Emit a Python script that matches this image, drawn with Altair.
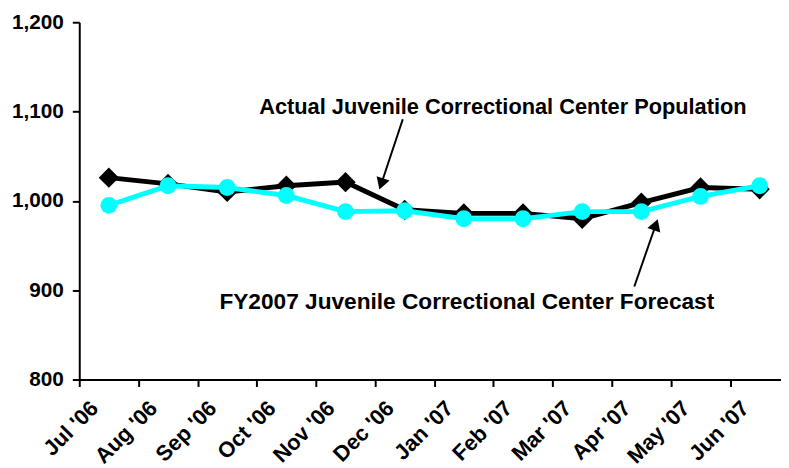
import json
import altair as alt
import pandas as pd

months = ["Jul '06", "Aug '06", "Sep '06", "Oct '06", "Nov '06", "Dec '06",
          "Jan '07", "Feb '07", "Mar '07", "Apr '07", "May '07", "Jun '07"]
actual = [1026, 1019, 1010, 1017, 1021, 990, 986, 986, 980, 998, 1015, 1013]
forecast = [995, 1017, 1015, 1006, 988, 989, 980, 980, 988, 988, 1005, 1017]

# annotations (data coordinates: month index, population)
actual_note = "Actual Juvenile Correctional Center Population"
actual_note_x = [6.66]
actual_note_y = [1104.7]
forecast_note = "FY2007 Juvenile Correctional Center Forecast"
forecast_note_x = [6.05]
forecast_note_y = [886.4]
arrow_x0 = [4.968, 8.881]
arrow_y0 = [1091.4, 904.2]
arrow_x1 = [4.604, 9.244]
arrow_y1 = [1018.9, 973.3]
arrow_angle = [198.4, 19.1]

df = pd.DataFrame({"i": list(range(len(months))), "month": months,
                   "actual": actual, "forecast": forecast})
note_a = pd.DataFrame({"text": [actual_note], "x": actual_note_x,
                       "y": actual_note_y})
note_f = pd.DataFrame({"text": [forecast_note], "x": forecast_note_x,
                       "y": forecast_note_y})
arrows = pd.DataFrame({"x0": arrow_x0, "y0": arrow_y0, "x1": arrow_x1,
                       "y1": arrow_y1, "angle": arrow_angle})

FONT = "Liberation Sans"
x_scale = alt.Scale(domain=[-0.5, 11.36], nice=False, zero=False)
y_scale = alt.Scale(domain=[800, 1200], nice=False, zero=False)

x_axis = alt.Axis(
    values=[k - 0.5 for k in range(len(months))],
    labelExpr=f"{json.dumps(months)}[round(datum.value + 0.5)]",
    labelAngle=-45, labelAlign="right", labelBaseline="middle",
    labelOffset=15, labelPadding=18, labelOverlap=False, labelFlush=False,
    labelBound=False, grid=False, title=None, labelFontSize=22,
)
y_axis = alt.Axis(values=[800, 900, 1000, 1100, 1200], format=",d",
                  grid=False, title=None, labelPadding=9, labelFontSize=21)

base = alt.Chart(df).encode(x=alt.X("i:Q", scale=x_scale, axis=x_axis))

act_line = base.mark_line(color="black", strokeWidth=5).encode(
    y=alt.Y("actual:Q", scale=y_scale, axis=y_axis))
act_pts = base.mark_point(shape="diamond", filled=True, size=420,
                          color="black", opacity=1).encode(y="actual:Q")
fc_line = base.mark_line(color="#00FFFF", strokeWidth=5).encode(y="forecast:Q")
fc_pts = base.mark_circle(size=290, color="#00FFFF", opacity=1).encode(
    y="forecast:Q")

arrow_lines = alt.Chart(arrows).mark_rule(color="black", strokeWidth=2).encode(
    x="x0:Q", y="y0:Q", x2="x1:Q", y2="y1:Q")
arrow_heads = alt.Chart(arrows).mark_point(
    shape="triangle-up", filled=True, size=190, color="black", opacity=1
).encode(x="x1:Q", y="y1:Q", angle=alt.Angle("angle:Q", scale=None))

label_a = alt.Chart(note_a).mark_text(
    font=FONT, fontSize=22, fontWeight="bold", color="black",
    align="center", baseline="middle"
).encode(x="x:Q", y="y:Q", text="text:N")
label_f = alt.Chart(note_f).mark_text(
    font=FONT, fontSize=22.9, fontWeight="bold", color="black",
    align="center", baseline="middle"
).encode(x="x:Q", y="y:Q", text="text:N")

chart = alt.layer(
    act_line, act_pts, fc_line, fc_pts, arrow_lines, arrow_heads,
    label_a, label_f
).properties(
    width=709, height=361,
    autosize=alt.AutoSizeParams(type="none"),
    padding={"left": 72, "top": 12, "right": 0, "bottom": 87},
).configure_view(stroke=None).configure_axis(
    domainColor="black", domainWidth=2, tickColor="black", tickWidth=2,
    tickSize=7, labelFont=FONT, labelFontWeight="bold", labelColor="black",
)

chart.save("out.html", embed_options={"renderer": "svg", "actions": False})
